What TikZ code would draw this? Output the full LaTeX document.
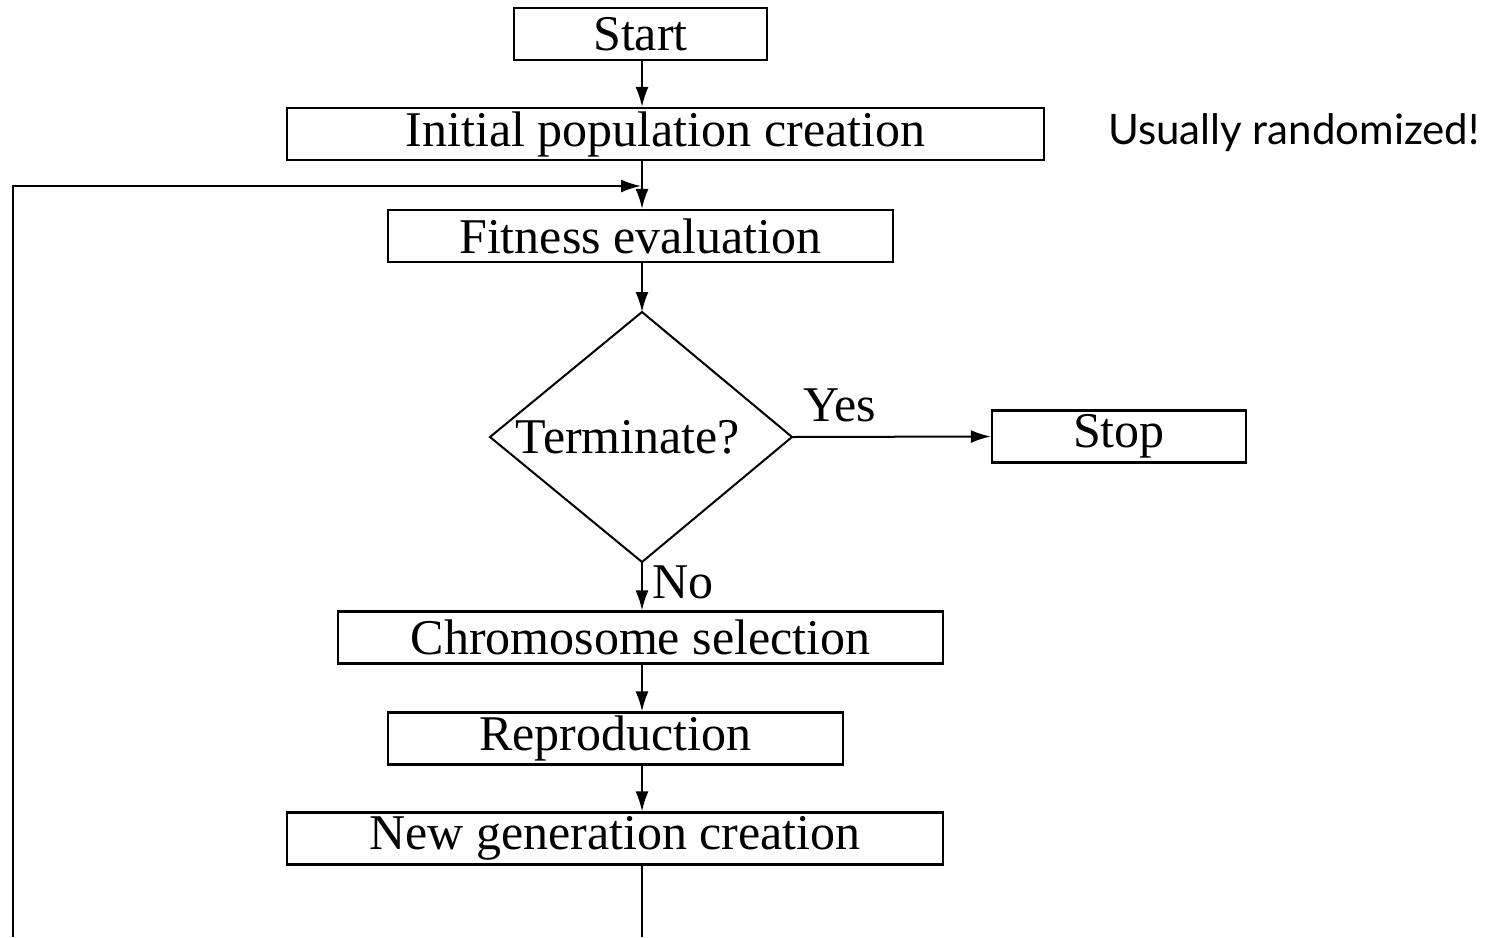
\documentclass[tikz,border=0pt]{standalone}
\usepackage{fontspec}
\setmainfont{Liberation Serif}
\newfontfamily\notefont{Lato}
\usetikzlibrary{arrows.meta}
\begin{document}
\begin{tikzpicture}[x=1pt,y=-1pt,
  every node/.style={font=\fontsize{50}{50}\selectfont},
  stepbox/.style={draw,line width=2.2pt,inner sep=0pt,minimum height=52pt},
  flow/.style={line width=2pt,-{Latex[length=20pt,width=13pt]}},
  plain/.style={line width=2pt}
]
\useasboundingbox (0,0) rectangle (1498,937);

% process boxes
\node[stepbox,minimum width=253pt] (start) at (640.5,34) {Start};
\node[stepbox,minimum width=757pt] (init) at (665.5,134) {Initial population creation};
\node[stepbox,minimum width=505pt] (fit) at (640.5,236) {Fitness evaluation};
\node[stepbox,minimum width=254pt] (stop) at (1119,436.5) {Stop};
\node[stepbox,minimum width=605pt] (sel) at (640.5,637.5) {Chromosome selection};
\node[stepbox,minimum width=455pt] (rep) at (615.5,738.5) {Reproduction};
\node[stepbox,minimum width=656pt] (newgen) at (615,838.5) {New generation creation};

% decision diamond
\coordinate (dtop) at (642,312);
\coordinate (dright) at (792,437);
\coordinate (dbot) at (642,562);
\coordinate (dleft) at (490,437);
\draw[line width=2pt,line join=miter] (dtop) -- (dright) -- (dbot) -- (dleft) -- cycle;
\node[inner sep=0pt] (term) at (628,437) {Terminate?};

% labels
\node[inner sep=0pt] (yes) at (840,405) {Yes};
\node[inner sep=0pt] (no) at (683,582) {No};
\node[inner sep=0pt,font=\notefont\fontsize{42}{42}\selectfont] (note) at (1294,133) {Usually randomized!};

% main chain
\draw[flow] (start.south -| dtop) -- (init.north -| dtop);
\draw[flow] (init.south -| dtop) -- (fit.north -| dtop);
\draw[flow] (fit.south -| dtop) -- (dtop);
\draw[flow] (dright) -- (stop.west);
\draw[flow] (dbot) -- (sel.north -| dbot);
\draw[flow] (sel.south -| dbot) -- (rep.north -| dbot);
\draw[flow] (rep.south -| dbot) -- (newgen.north -| dbot);

% loop back to fitness evaluation
\coordinate (loopout) at (642,937);
\coordinate (loopleft) at (13,937);
\coordinate (loopjoin) at (641,186);
\draw[plain] (newgen.south -| dbot) -- (loopout);
\draw[flow] (loopleft) -- (13,186) -- (loopjoin);
\end{tikzpicture}
\end{document}
